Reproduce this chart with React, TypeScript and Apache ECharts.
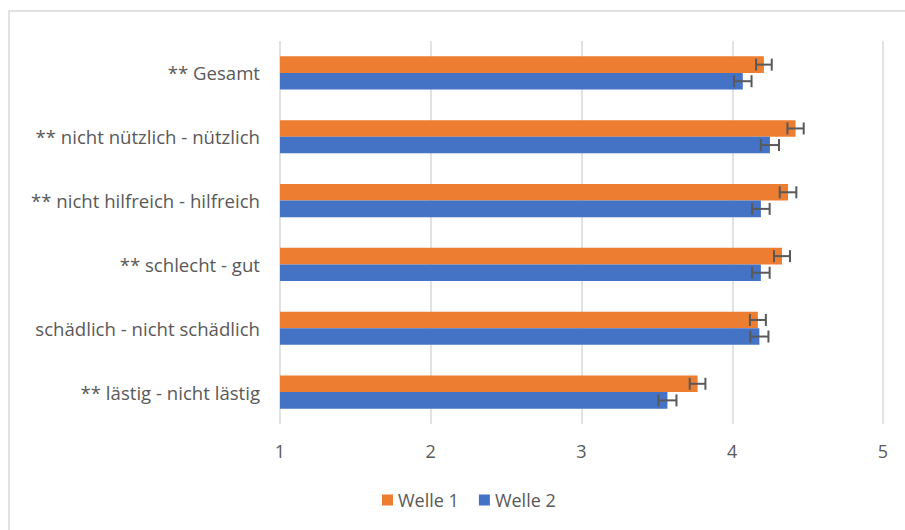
import React, { useEffect, useRef } from "react";
import * as echarts from "echarts";

const categories = [
  "** lästig - nicht lästig",
  "schädlich - nicht schädlich",
  "** schlecht - gut",
  "** nicht hilfreich - hilfreich",
  "** nicht nützlich - nützlich",
  "** Gesamt",
];
const welle1 = [3.77, 4.17, 4.33, 4.37, 4.42, 4.21];
const welle1Err = [0.052, 0.053, 0.053, 0.055, 0.054, 0.052];
const welle2 = [3.57, 4.18, 4.19, 4.19, 4.25, 4.07];
const welle2Err = [0.06, 0.06, 0.058, 0.058, 0.06, 0.058];
const xTicks = [1, 2, 3, 4, 5];

const ORANGE = "#ED7D31";
const BLUE = "#4472C4";
const TEXT = "#595959";
const FONT = "'Open Sans', 'Noto Sans', sans-serif";

function errorSeries(name: string, values: number[], errs: number[], offset: number) {
  return {
    type: "custom",
    name: name + " err",
    silent: true,
    z: 10,
    renderItem: (params: any, api: any) => {
      const ci = api.value(0);
      const lo = api.value(1);
      const hi = api.value(2);
      const pLo = api.coord([lo, ci]);
      const pHi = api.coord([hi, ci]);
      const band = api.size([0, 1])[1];
      const y = pLo[1] + band * offset;
      const cap = 6;
      const style = { stroke: "#595959", lineWidth: 2, fill: "none" };
      return {
        type: "group",
        children: [
          { type: "line", shape: { x1: pLo[0], y1: y, x2: pHi[0], y2: y }, style },
          { type: "line", shape: { x1: pLo[0], y1: y - cap, x2: pLo[0], y2: y + cap }, style },
          { type: "line", shape: { x1: pHi[0], y1: y - cap, x2: pHi[0], y2: y + cap }, style },
        ],
      };
    },
    encode: { x: [1, 2], y: 0 },
    data: values.map((v, i) => [i, v - errs[i], v + errs[i]]),
  };
}

export default function App() {
  const ref = useRef<HTMLDivElement>(null);
  useEffect(() => {
    if (!ref.current) return;
    const chart = echarts.init(ref.current, null, { renderer: "svg" });
    chart.setOption({
      animation: false,
      graphic: [
        {
          type: "rect",
          shape: { x: 9, y: 11, width: 1000, height: 1000 },
          style: { fill: "none", stroke: "#d9d9d9", lineWidth: 1.5 },
          silent: true,
        },
      ],
      grid: { left: 280, right: 22, top: 41, bottom: 106, containLabel: false },
      legend: {
        top: 486,
        left: 377,
        itemWidth: 11,
        itemHeight: 11,
        itemGap: 20,
        icon: "rect",
        textStyle: { color: TEXT, fontSize: 18, fontFamily: FONT },
        data: ["Welle 1", "Welle 2"],
      },
      xAxis: {
        type: "value",
        min: 1,
        max: 5,
        interval: 1,
        axisLine: { show: false },
        axisTick: { show: false },
        splitLine: { lineStyle: { color: "#d9d9d9", width: 1.5 } },
        axisLabel: {
          color: TEXT,
          fontSize: 18,
          fontFamily: FONT,
          margin: 18,
          formatter: (v: number) => (xTicks.includes(v) ? String(v) : ""),
        },
      },
      yAxis: {
        type: "category",
        data: categories,
        axisLine: { show: false },
        axisTick: { show: false },
        axisLabel: { color: TEXT, fontSize: 18.6, fontFamily: FONT, margin: 20 },
      },
      series: [
        {
          name: "Welle 1",
          type: "bar",
          data: welle1,
          itemStyle: { color: ORANGE },
          barGap: "0%",
          barCategoryGap: "48%",
        },
        {
          name: "Welle 2",
          type: "bar",
          data: welle2,
          itemStyle: { color: BLUE },
          barGap: "0%",
          barCategoryGap: "48%",
        },
        errorSeries("Welle 1", welle1, welle1Err, -0.13),
        errorSeries("Welle 2", welle2, welle2Err, 0.13),
      ],
    });
    return () => chart.dispose();
  }, []);
  return (
    <div
      ref={ref}
      style={{ position: "absolute", left: 0, top: 0, width: 905, height: 530, background: "#fff" }}
    />
  );
}
